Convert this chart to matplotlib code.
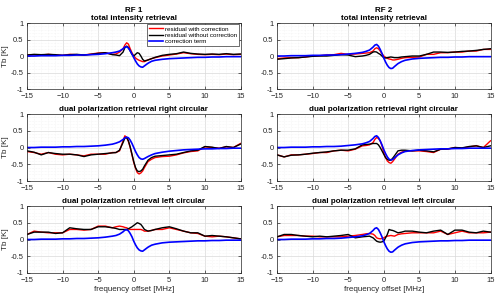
import matplotlib.pyplot as plt
import numpy as np
from matplotlib.ticker import MultipleLocator

plt.rcParams['font.family'] = ['Liberation Sans', 'DejaVu Sans']

# frequency offset grid [MHz]
freq = [-15, -14, -13, -12, -11, -10, -9, -8, -7, -6, -5, -4, -3,
        -2.5, -2, -1.5, -1.25, -1, -0.75, -0.5, -0.25, 0, 0.25, 0.5, 0.75, 1, 1.25, 1.5,
        2, 2.5, 3, 4, 5, 6, 7, 8, 9, 10, 11, 12, 13, 14, 15]

# RF 1 - total intensity
rf1_ti_with = [0.03, 0.04, 0.03, 0.05, 0.03, 0.02, 0.05, 0.04, 0.03, 0.06, 0.09, 0.1, 0.05,
               0.06, 0.12, 0.22, 0.33, 0.4, 0.36, 0.22, 0.1, 0.0, -0.06, -0.1, -0.13, -0.15, -0.17, -0.17,
               -0.12, -0.08, -0.05, 0.0, 0.03, 0.06, 0.1, 0.07, 0.05, 0.04, 0.05, 0.04, 0.06, 0.04, 0.05]
rf1_ti_without = [0.03, 0.05, 0.04, 0.05, 0.04, 0.02, 0.04, 0.05, 0.03, 0.05, 0.08, 0.1, 0.04,
                  0.03, 0.01, 0.12, 0.25, 0.3, 0.26, 0.15, 0.05, 0.0, 0.05, 0.1, 0.08, 0.0, -0.1, -0.15,
                  -0.12, -0.08, -0.04, 0.02, 0.05, 0.07, 0.12, 0.08, 0.06, 0.05, 0.06, 0.05, 0.07, 0.05, 0.06]
rf1_ti_corr = [0.0, 0.0, 0.01, 0.01, 0.01, 0.02, 0.02, 0.03, 0.03, 0.04, 0.05, 0.07, 0.1,
               0.12, 0.15, 0.22, 0.27, 0.28, 0.24, 0.16, 0.06, -0.05, -0.15, -0.24, -0.3, -0.33, -0.34, -0.3,
               -0.22, -0.16, -0.13, -0.1, -0.08, -0.07, -0.06, -0.05, -0.04, -0.04, -0.03, -0.03, -0.02, -0.02, -0.02]

# RF 1 - right circular
rf1_rc_with = [-0.12, -0.15, -0.2, -0.15, -0.2, -0.22, -0.2, -0.22, -0.25, -0.2, -0.2, -0.2, -0.15,
               -0.15, -0.1, 0.2, 0.35, 0.3, 0.18, 0.0, -0.22, -0.45, -0.62, -0.75, -0.79, -0.76, -0.7, -0.6,
               -0.42, -0.35, -0.3, -0.27, -0.26, -0.22, -0.16, -0.12, -0.1, 0.02, 0.0, -0.02, 0.02, 0.0, 0.12]
rf1_rc_without = [-0.1, -0.14, -0.22, -0.15, -0.18, -0.2, -0.2, -0.22, -0.27, -0.22, -0.2, -0.18, -0.16,
                  -0.15, -0.08, 0.15, 0.28, 0.3, 0.2, 0.02, -0.2, -0.42, -0.6, -0.7, -0.72, -0.7, -0.65, -0.55,
                  -0.38, -0.3, -0.26, -0.24, -0.22, -0.2, -0.15, -0.1, -0.08, 0.03, 0.01, -0.03, 0.03, 0.0, 0.1]
rf1_rc_corr = [0.0, 0.0, 0.01, 0.01, 0.01, 0.02, 0.02, 0.03, 0.03, 0.04, 0.05, 0.07, 0.1,
               0.13, 0.17, 0.24, 0.29, 0.31, 0.29, 0.22, 0.12, 0.0, -0.12, -0.22, -0.3, -0.34, -0.35, -0.33,
               -0.27, -0.22, -0.18, -0.14, -0.11, -0.09, -0.07, -0.06, -0.05, -0.04, -0.04, -0.03, -0.03, -0.02, -0.02]

# RF 1 - left circular
rf1_lc_with = [0.15, 0.25, 0.22, 0.2, 0.2, 0.2, 0.3, 0.3, 0.28, 0.3, 0.4, 0.4, 0.35,
               0.38, 0.4, 0.38, 0.36, 0.35, 0.32, 0.3, 0.3, 0.3, 0.3, 0.3, 0.3, 0.3, 0.28, 0.25,
               0.25, 0.27, 0.3, 0.3, 0.35, 0.3, 0.25, 0.2, 0.18, 0.1, 0.08, 0.1, 0.08, 0.05, 0.02]
rf1_lc_without = [0.15, 0.22, 0.22, 0.22, 0.18, 0.2, 0.35, 0.32, 0.3, 0.3, 0.38, 0.38, 0.35,
                  0.33, 0.3, 0.3, 0.3, 0.3, 0.32, 0.35, 0.38, 0.42, 0.46, 0.5, 0.48, 0.45, 0.38, 0.3,
                  0.25, 0.27, 0.3, 0.35, 0.38, 0.32, 0.25, 0.2, 0.2, 0.1, 0.12, 0.1, 0.08, 0.05, 0.02]
rf1_lc_corr = [0.0, 0.0, 0.01, 0.01, 0.01, 0.02, 0.02, 0.03, 0.03, 0.04, 0.05, 0.07, 0.1,
               0.12, 0.16, 0.23, 0.28, 0.29, 0.26, 0.18, 0.08, -0.05, -0.16, -0.25, -0.31, -0.34, -0.35, -0.31,
               -0.23, -0.17, -0.14, -0.1, -0.08, -0.07, -0.06, -0.05, -0.04, -0.04, -0.03, -0.03, -0.02, -0.02, -0.02]

# RF 2 - total intensity
rf2_ti_with = [-0.08, -0.06, -0.05, -0.05, -0.03, 0.0, 0.01, 0.03, 0.04, 0.08, 0.05, 0.06, 0.08,
               0.09, 0.1, 0.15, 0.22, 0.25, 0.22, 0.15, 0.07, 0.0, -0.04, -0.07, -0.09, -0.1, -0.12, -0.12,
               -0.1, -0.07, -0.05, -0.04, -0.03, 0.05, 0.05, 0.1, 0.1, 0.12, 0.12, 0.15, 0.15, 0.2, 0.2]
rf2_ti_without = [-0.1, -0.08, -0.06, -0.05, -0.03, -0.01, 0.0, 0.0, 0.02, 0.04, 0.03, -0.02, 0.0,
                  0.02, 0.05, 0.12, 0.13, 0.12, 0.08, 0.05, 0.0, -0.05, -0.06, -0.05, -0.04, -0.03, -0.04, -0.05,
                  -0.05, -0.03, -0.02, 0.0, 0.0, 0.05, 0.12, 0.12, 0.11, 0.12, 0.14, 0.15, 0.17, 0.2, 0.22]
rf2_ti_corr = [0.0, 0.0, 0.01, 0.01, 0.01, 0.02, 0.02, 0.03, 0.03, 0.04, 0.06, 0.08, 0.11,
               0.14, 0.18, 0.27, 0.33, 0.35, 0.3, 0.2, 0.08, -0.06, -0.18, -0.28, -0.35, -0.38, -0.37, -0.32,
               -0.23, -0.17, -0.13, -0.09, -0.07, -0.06, -0.05, -0.04, -0.04, -0.03, -0.03, -0.02, -0.02, -0.02, -0.02]

# RF 2 - right circular
rf2_rc_with = [-0.22, -0.28, -0.22, -0.22, -0.2, -0.18, -0.15, -0.15, -0.1, -0.08, -0.1, -0.05, 0.05,
               0.06, 0.08, 0.15, 0.24, 0.3, 0.27, 0.2, 0.05, -0.15, -0.3, -0.4, -0.45, -0.47, -0.42, -0.35,
               -0.2, -0.14, -0.1, -0.1, -0.1, -0.12, -0.15, -0.05, -0.05, 0.0, -0.02, 0.02, 0.05, 0.0, 0.2]
rf2_rc_without = [-0.22, -0.28, -0.23, -0.22, -0.2, -0.17, -0.15, -0.13, -0.1, -0.08, -0.08, -0.04, 0.08,
                  0.09, 0.1, 0.12, 0.12, 0.12, 0.08, 0.0, -0.1, -0.2, -0.3, -0.35, -0.38, -0.38, -0.32, -0.25,
                  -0.1, -0.08, -0.08, -0.1, -0.08, -0.1, -0.13, -0.05, -0.04, 0.0, -0.01, 0.03, 0.05, 0.0, 0.05]
rf2_rc_corr = [0.0, 0.0, 0.01, 0.01, 0.01, 0.02, 0.02, 0.03, 0.03, 0.04, 0.06, 0.08, 0.11,
               0.14, 0.18, 0.27, 0.33, 0.35, 0.3, 0.2, 0.08, -0.06, -0.18, -0.28, -0.35, -0.37, -0.36, -0.31,
               -0.22, -0.16, -0.12, -0.09, -0.07, -0.06, -0.05, -0.04, -0.04, -0.03, -0.03, -0.02, -0.02, -0.02, -0.02]

# RF 2 - left circular
rf2_lc_with = [0.08, 0.12, 0.12, 0.12, 0.1, 0.1, 0.08, 0.08, 0.08, 0.08, 0.1, 0.12, 0.15,
               0.17, 0.18, 0.16, 0.12, 0.05, 0.03, 0.02, 0.03, 0.05, 0.08, 0.1, 0.11, 0.12, 0.11, 0.1,
               0.15, 0.17, 0.18, 0.2, 0.2, 0.2, 0.2, 0.25, 0.15, 0.2, 0.25, 0.2, 0.2, 0.2, 0.22]
rf2_lc_without = [0.08, 0.15, 0.15, 0.12, 0.1, 0.08, 0.1, 0.08, 0.1, 0.12, 0.15, 0.05, 0.08,
                  0.09, 0.1, 0.05, 0.0, -0.05, -0.07, -0.08, -0.07, -0.05, 0.05, 0.15, 0.3, 0.28, 0.27, 0.25,
                  0.2, 0.22, 0.25, 0.25, 0.22, 0.2, 0.25, 0.28, 0.15, 0.28, 0.28, 0.22, 0.2, 0.25, 0.22]
rf2_lc_corr = [0.0, 0.0, 0.01, 0.01, 0.01, 0.02, 0.02, 0.03, 0.03, 0.04, 0.06, 0.08, 0.11,
               0.14, 0.18, 0.27, 0.33, 0.35, 0.3, 0.2, 0.08, -0.06, -0.18, -0.28, -0.35, -0.38, -0.37, -0.32,
               -0.23, -0.17, -0.13, -0.09, -0.07, -0.06, -0.05, -0.04, -0.04, -0.03, -0.03, -0.02, -0.02, -0.02, -0.02]

panels = [
    [(rf1_ti_with, rf1_ti_without, rf1_ti_corr),
     (rf1_rc_with, rf1_rc_without, rf1_rc_corr),
     (rf1_lc_with, rf1_lc_without, rf1_lc_corr)],
    [(rf2_ti_with, rf2_ti_without, rf2_ti_corr),
     (rf2_rc_with, rf2_rc_without, rf2_rc_corr),
     (rf2_lc_with, rf2_lc_without, rf2_lc_corr)],
]
row_titles = ["total intensity retrieval",
              "dual polarization retrieval right circular",
              "dual polarization retrieval left circular"]
col_titles = ["RF 1", "RF 2"]

fig = plt.figure(figsize=(5.0, 2.98), dpi=100)
lefts = [0.054, 0.554]
width = 0.427
bottoms = [0.7013, 0.3926, 0.0839]
heights = [0.2215, 0.2248, 0.2248]

axcol = '#262626'
for c in range(2):
    for r in range(3):
        ax = fig.add_axes([lefts[c], bottoms[r], width, heights[r]])
        w, wo, corr = panels[c][r]
        ax.plot(freq, w, color='red', lw=1.0, label='residual with correction')
        ax.plot(freq, wo, color='black', lw=1.0, label='residual without correction')
        ax.plot(freq, corr, color='blue', lw=1.2, label='correction term')
        ax.set_xlim(-15, 15)
        ax.set_ylim(-1, 1)
        ax.set_xticks([-15, -10, -5, 0, 5, 10, 15])
        ax.set_yticks([-1, -0.5, 0, 0.5, 1])
        ax.set_yticklabels(['-1', '-0.5', '0', '0.5', '1'])
        ax.xaxis.set_minor_locator(MultipleLocator(1))
        ax.yaxis.set_minor_locator(MultipleLocator(0.1))
        ax.grid(True, which='major', color='#d9d9d9', lw=0.5)
        ax.grid(True, which='minor', color='#eeeeee', lw=0.4, ls=':')
        ax.set_axisbelow(True)
        ax.tick_params(which='both', direction='in', length=2, width=0.5,
                       labelsize=5.5, colors=axcol, top=True, right=True)
        ax.tick_params(axis='x', pad=3)
        ax.tick_params(axis='y', pad=2.5)
        ax.tick_params(which='minor', length=0)
        for s in ax.spines.values():
            s.set_linewidth(0.5)
            s.set_color(axcol)
        title = row_titles[r]
        if r == 0:
            title = col_titles[c] + "\n" + title
        ax.set_title(title, fontsize=5.8, fontweight='bold', pad=2, linespacing=1.3)
        if c == 0:
            ax.set_ylabel('Tb [K]', fontsize=5.8, color=axcol, labelpad=1)
        if r == 2:
            ax.set_xlabel('frequency offset [MHz]', fontsize=5.8, color=axcol, labelpad=1)
        if c == 0 and r == 0:
            ax.legend(loc='upper right', fontsize=4.5, handlelength=2.2, borderpad=0.3,
                      labelspacing=0.15, handletextpad=0.4, framealpha=1,
                      edgecolor='#333333', fancybox=False, borderaxespad=0.2).get_frame().set_linewidth(0.5)

fig.savefig('out.png', dpi=100)
